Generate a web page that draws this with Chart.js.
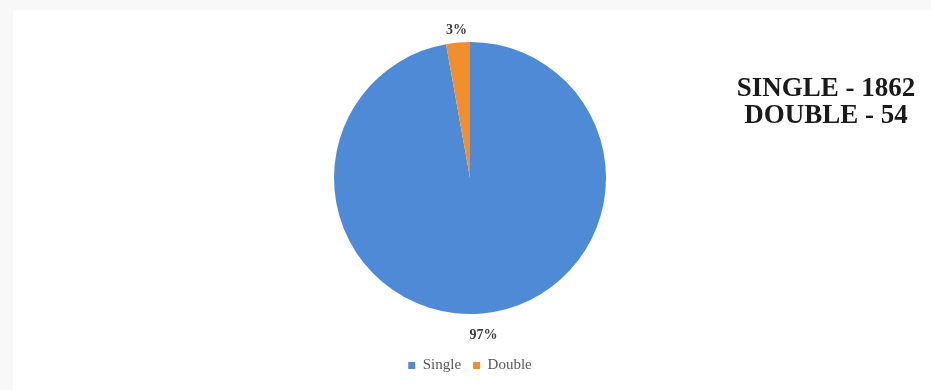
<!DOCTYPE html>
<html>
<head>
<meta charset="utf-8">
<script src="https://cdn.jsdelivr.net/npm/chart.js@4/dist/chart.umd.min.js"></script>
<style>
    body { margin: 0; background: #f8f8f8; width: 931px; height: 390px; overflow: hidden; }
    #panel { position: absolute; left: 13px; top: 10px; width: 918px; height: 380px; background: #fff; }
    #pie { position: absolute; left: 0; top: 0; }
    #note {
        position: absolute; left: 696px; top: 74px; width: 260px;
        text-align: center; font: bold 27px "Liberation Serif", "DejaVu Serif", serif;
        color: #1a1a1a; line-height: 27px; white-space: nowrap;
    }
</style>
</head>
<body>
<div id="panel">
    <canvas id="pie" width="918" height="380"></canvas>
</div>
<div id="note">SINGLE - 1862<br>DOUBLE - 54</div>
<script>
const categories = ['Single', 'Double'];
const counts = [1862, 54];
const colours = ['#4f8ad6', '#f28f2c'];

// étiquettes en pourcentage à l'extérieur du camembert
const outsideLabels = {
    id: 'outsideLabels',
    afterDatasetsDraw(chart) {
        const ctx = chart.ctx;
        const meta = chart.getDatasetMeta(0);
        const total = counts.reduce((a, b) => a + b, 0);
        ctx.save();
        ctx.font = 'bold 14px "Liberation Serif", serif';
        ctx.fillStyle = '#404040';
        ctx.textAlign = 'center';
        ctx.textBaseline = 'middle';
        meta.data.forEach((arc, i) => {
            const pct = Math.round(counts[i] / total * 100) + '%';
            const mid = (arc.startAngle + arc.endAngle) / 2;
            const w = ctx.measureText(pct).width;
            const off = 9 + Math.abs(Math.sin(mid)) * 7 + Math.abs(Math.cos(mid)) * w / 2;
            const x = arc.x + Math.cos(mid) * (arc.outerRadius + off);
            const y = arc.y + Math.sin(mid) * (arc.outerRadius + off) + 5;
            ctx.fillText(pct, x, y);
        });
        ctx.restore();
    }
};

new Chart(document.getElementById('pie'), {
    type: 'pie',
    data: {
        labels: categories,
        datasets: [{
            data: counts,
            backgroundColor: colours,
            borderWidth: 0,
            radius: 136
        }]
    },
    options: {
        responsive: false,
        maintainAspectRatio: false,
        animation: false,
        layout: { padding: { top: 0, bottom: 7, right: 4 } },
        plugins: {
            tooltip: { enabled: false },
            legend: {
                position: 'bottom',
                labels: {
                    boxWidth: 7,
                    boxHeight: 7,
                    padding: 12,
                    color: '#595959',
                    font: { family: '"Liberation Serif", serif', size: 15 }
                }
            }
        }
    },
    plugins: [outsideLabels]
});
</script>
</body>
</html>
